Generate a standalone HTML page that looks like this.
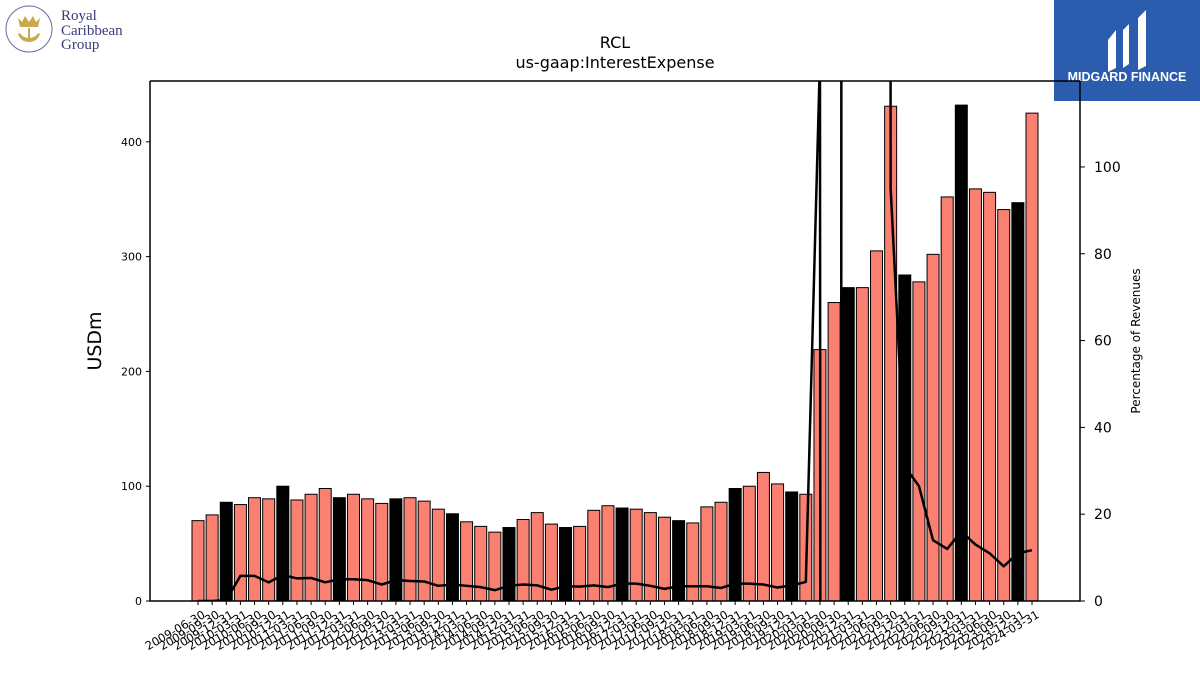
<!DOCTYPE html>
<html><head><meta charset="utf-8"><style>
html,body{margin:0;background:#fff;width:1200px;height:675px;overflow:hidden;font-family:"DejaVu Sans","Liberation Sans",sans-serif}
svg{display:block}
</style></head><body>
<svg id="chart" width="1200" height="675" xmlns="http://www.w3.org/2000/svg">
<g>
<circle cx="29" cy="29" r="23" fill="none" stroke="#6a6a9a" stroke-width="1"/>
<path d="M18 18 L22 22 L25 16 L29 22 L33 16 L36 22 L40 18 L38 27 L20 27 Z M28 28 h2 v10 q6 -1 8 -5 l2 1 q-3 8 -11 8 q-8 0 -11 -8 l2 -1 q2 4 8 5 Z" fill="#c9a94e"/>
<text x="61" y="20" font-family="Liberation Serif,serif" font-size="15" fill="#3a3a7a">Royal</text>
<text x="61" y="35" font-family="Liberation Serif,serif" font-size="15" fill="#3a3a7a">Caribbean</text>
<text x="61" y="49" font-family="Liberation Serif,serif" font-size="15" fill="#3a3a7a">Group</text>
</g>
<g>
<rect x="1054" y="0" width="146" height="101" fill="#2b5cad"/>
<path d="M1108 40 l8 -10 v38 l-8 4 Z M1123 30 l6 -6 v40 l-6 4 Z M1138 18 l8 -8 v56 l-8 4 Z" fill="#fff"/>
<text x="1127" y="81" text-anchor="middle" font-family="Liberation Sans,sans-serif" font-weight="bold" font-size="12.5" fill="#fff">MIDGARD FINANCE</text>
</g>
<text x="615" y="48" text-anchor="middle" font-size="16">RCL</text>
<text x="615" y="68" text-anchor="middle" font-size="16">us-gaap:InterestExpense</text>
<text transform="translate(101,341) rotate(-90)" text-anchor="middle" font-size="19">USDm</text>
<text transform="translate(1140,341) rotate(-90)" text-anchor="middle" font-size="12">Percentage of Revenues</text>
<g id="plot"></g>
</svg>
<script>
const categories=["2009-06-30","2009-09-30","2009-12-31","2010-03-31","2010-06-30","2010-09-30","2010-12-31","2011-03-31","2011-06-30","2011-09-30","2011-12-31","2012-03-31","2012-06-30","2012-09-30","2012-12-31","2013-03-31","2013-06-30","2013-09-30","2013-12-31","2014-03-31","2014-06-30","2014-09-30","2014-12-31","2015-03-31","2015-06-30","2015-09-30","2015-12-31","2016-03-31","2016-06-30","2016-09-30","2016-12-31","2017-03-31","2017-06-30","2017-09-30","2017-12-31","2018-03-31","2018-06-30","2018-09-30","2018-12-31","2019-03-31","2019-06-30","2019-09-30","2019-12-31","2020-03-31","2020-06-30","2020-09-30","2020-12-31","2021-03-31","2021-06-30","2021-09-30","2021-12-31","2022-03-31","2022-06-30","2022-09-30","2022-12-31","2023-03-31","2023-06-30","2023-09-30","2023-12-31","2024-03-31"];
const expense=[70,75,86,84,90,89,100,88,93,98,90,93,89,85,89,90,87,80,76,69,65,60,64,71,77,67,64,65,79,83,81,80,77,73,70,68,82,86,98,100,112,102,95,93,219,260,273,273,305,431,284,278,302,352,432,359,356,341,347,425];
const pctRevenue=[0,0,0.2,5.8,5.8,4.3,6,5.2,5.3,4.3,5,5,4.8,3.8,4.8,4.6,4.5,3.5,3.8,3.5,3.2,2.5,3.5,3.8,3.6,2.6,3.4,3.3,3.6,3.2,4,4,3.5,2.8,3.4,3.4,3.4,3,4,4,3.8,3.1,3.6,4.4,125,-5000,5000,5000,5000,95,31,26.5,14,12,16,13,11,8,11,11.7];
const leftTicks=[0,100,200,300,400];
const rightTicks=[0,20,40,60,80,100];
const L=150,R=1080,T=81,B=601,yMax=453,rMax=119.8;
const x=i=>198+i*(1032-198)/(categories.length-1);
const y=v=>B-(v/yMax)*(B-T);
const yr=v=>B-(v/rMax)*(B-T);
const NS="http://www.w3.org/2000/svg";
const g=document.getElementById('plot');
function mk(t,a){const e=document.createElementNS(NS,t);for(const k in a)e.setAttribute(k,a[k]);g.appendChild(e);return e;}
const clip=document.createElementNS(NS,'clipPath');clip.setAttribute('id','pc');
const cr=document.createElementNS(NS,'rect');cr.setAttribute('x',L);cr.setAttribute('y',T);cr.setAttribute('width',R-L);cr.setAttribute('height',B-T);clip.appendChild(cr);g.appendChild(clip);
expense.forEach((v,i)=>{
 const annual=categories[i].endsWith('12-31');
 const r=mk('rect',{x:x(i)-6,y:y(v),width:12,height:B-y(v),fill:annual?'#000':'#fa8072',stroke:'#000','stroke-width':1});
 
 
});
const pts=pctRevenue.map((v,i)=>x(i)+','+yr(v)).join(' ');
const line=mk('polyline',{points:pts,fill:'none',stroke:'#000','stroke-width':2.5,'clip-path':'url(#pc)','stroke-linejoin':'round'});


const fr=mk('path',{d:`M${L} ${T} H${R} M${L} ${T} V${B} H${R} V${T}`,fill:'none',stroke:'#000','stroke-width':1.5});


leftTicks.forEach(v=>{
 mk('line',{x1:L-4,x2:L,y1:y(v),y2:y(v),stroke:'#000'});
 const t=mk('text',{x:L-8,y:y(v)+4,'text-anchor':'end','font-size':11});t.textContent=v;
 
 
});
rightTicks.forEach(v=>{
 mk('line',{x1:R,x2:R+5,y1:yr(v),y2:yr(v),stroke:'#000'});
 const t=mk('text',{x:R+14,y:yr(v)+5,'font-size':14});t.textContent=v;
 
 
});
categories.forEach((c,i)=>{
 mk('line',{x1:x(i),x2:x(i),y1:B,y2:B+4,stroke:'#000'});
 const t=mk('text',{transform:`translate(${x(i)+8},${B+16}) rotate(-30)`,'text-anchor':'end','font-size':11.5});t.textContent=c;
 
 
});
</script>
</body></html>
